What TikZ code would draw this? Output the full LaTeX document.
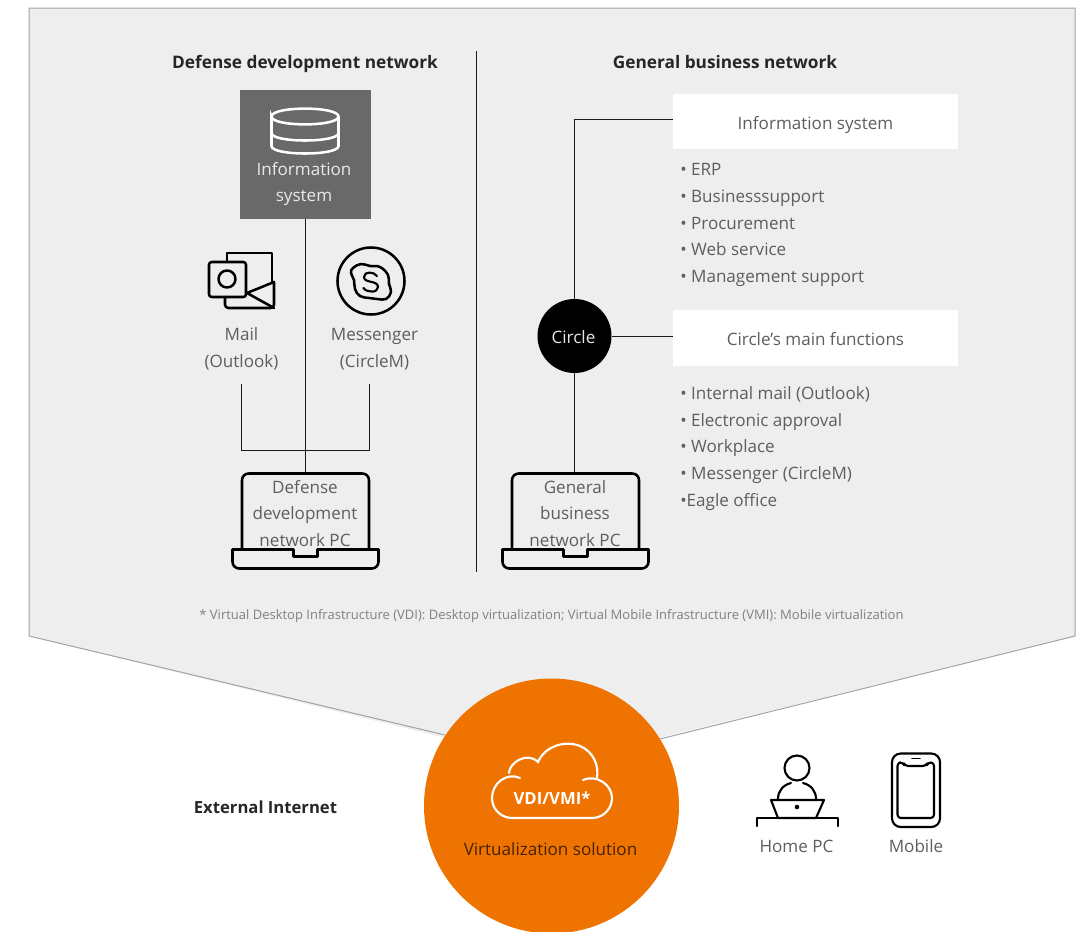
\documentclass[tikz,border=0pt]{standalone}
\usepackage{fontspec}
\setmainfont{Open Sans}
\definecolor{panel}{HTML}{EEEEEE}
\definecolor{paneledge}{HTML}{9AA5AD}
\definecolor{darkbox}{HTML}{696969}
\definecolor{orangec}{HTML}{EF7300}
\definecolor{txt}{HTML}{5E5E5E}
\definecolor{ink}{HTML}{1A1A1A}
\definecolor{boldtxt}{HTML}{262626}
\newcommand{\body}{\fontsize{12.8pt}{20pt}\selectfont}
\tikzset{
  x=0.75pt,y=-0.75pt,
  lbl/.style={inner sep=0pt,anchor=base,text=txt,font=\body,align=center},
  ttl/.style={inner sep=0pt,anchor=base,text=boldtxt,font=\fontsize{12.95pt}{16pt}\selectfont\bfseries},
  conn/.style={draw=ink,line width=0.75pt},
  icon/.style={draw=black,line width=1.9pt,line join=round,line cap=round},
  whitebox/.style={fill=white,draw=none,minimum width=213.75pt,minimum height=41.5pt,inner sep=0pt},
  lst/.style={inner sep=0pt,anchor=base west,text=txt,font=\body},
  laptop/.pic={
    \draw[icon,rounded corners=5pt] (-63.5,75) -- (-63.5,0) -- (63.5,0) -- (63.5,75);
    \draw[icon,rounded corners=5pt] (-73,76) -- (-73,95) -- (73,95) -- (73,76);
    \draw[icon] (-73,76) -- (-12,76) -- (-12,83) -- (12,83) -- (12,76) -- (73,76);
  }
}
\begin{document}
\begin{tikzpicture}
\useasboundingbox (0,0) rectangle (1090,932);
\clip (0,0) rectangle (1090,932);
% panel
\path[fill=panel] (29,8) -- (1075,8) -- (1075,636) -- (552,764) -- (29,636) -- cycle;
\draw[paneledge,line width=0.75pt] (445,735) -- (29,636) -- (29,8) -- (1075,8) -- (1075,636) -- (660,739);
% divider
\coordinate (divtop) at (476.5,51);
\coordinate (divbot) at (476.5,572);
\draw[conn] (divtop) -- (divbot);
% titles
\node[ttl] (deftitle) at (305,68) {Defense development network};
\node[ttl] (gentitle) at (725,68) {General business network};
% connectors left
\node[fill=darkbox,minimum width=98.25pt,minimum height=96.75pt,inner sep=0pt] (infodark) at (305.5,154.5) {};
\coordinate (devtop) at (305.5,473);
\coordinate (mailend) at (241.5,384);
\coordinate (msgend) at (369.5,384);
\coordinate (busl) at (241.5,450.5);
\coordinate (busr) at (369.5,450.5);
\draw[conn] (infodark.south) -- (devtop);
\draw[conn] (mailend) -- (busl) -- (busr) -- (msgend);
% database icon
\begin{scope}[line width=1.9pt,line cap=round]
\draw[white] (271.5,116.5) .. controls (271.5,106) and (338.5,106) .. (338.5,116.5) .. controls (338.5,127) and (271.5,127) .. (271.5,116.5) -- (271.5,146) .. controls (271.5,156) and (338.5,156) .. (338.5,146) -- (338.5,116.5);
\draw[white] (271.5,133) .. controls (271.5,143) and (338.5,143) .. (338.5,133);
\end{scope}
\node[lbl,text=white!85!darkbox,anchor=center] (infolabel) at (304,184) {Information\\system};
% outlook icon
\draw[icon,rounded corners=2pt] (209,262) rectangle (246,297);
\draw[icon] (227,279) circle[radius=8.5];
\draw[icon] (227,262) -- (227,253) -- (272,253) -- (272,282);
\draw[icon,rounded corners=2.5pt] (225,297) -- (225,308) -- (274,308) -- (274,282);
\draw[icon] (274,282) -- (247,293) -- (274,308);
\node[lbl] (mail) at (241.5,340) {Mail};
\node[lbl] (mail2) at (241.5,367) {(Outlook)};
% skype icon
\draw[icon] (371,281) circle[radius=33.5];
\draw[icon] plot[smooth cycle,tension=0.7] coordinates {(353,268) (361,264) (370,266) (380,267) (388,275) (389,284) (391,292) (386,299) (377,299) (369,298) (360,296) (355,289) (354,280) (351,273)};
\draw[icon,line width=1.6pt] (377,276) .. controls (374,271.5) and (364,271) .. (364,277) .. controls (364,283.5) and (378,280) .. (378,287) .. controls (378,293) and (367,293) .. (363.5,288);
\node[lbl] (msg) at (374.5,340) {Messenger};
\node[lbl] (msg2) at (374.5,367) {(CircleM)};
% right side
\node[whitebox] (infobox) at (815.5,121.5) {};
\node[whitebox] (funcbox) at (815.5,338) {};
\node[lbl] (infotext) at (815.5,129) {Information system};
\node[lbl] (functext) at (815.5,345) {Circle’s main functions};
\node[circle,fill=black,minimum size=55.5pt,inner sep=0pt] (circ) at (574.5,336) {};
\node[lbl,text=white!90!black] (circtext) at (573.5,343) {Circle};
\coordinate (gentop) at (574.5,473);
\coordinate (elbow) at (574.5,119);
\draw[conn] (circ.north) -- (elbow) -- (infobox.west |- elbow);
\draw[conn] (circ.east) -- (funcbox.west |- circ.east);
\draw[conn] (circ.south) -- (gentop);
\node[lst] (l1) at (680,175) {• ERP};
\node[lst] (l2) at (680,202) {• Businesssupport};
\node[lst] (l3) at (680,229) {• Procurement};
\node[lst] (l4) at (680,255) {• Web service};
\node[lst] (l5) at (680,282) {• Management support};
\node[lst] (m1) at (680,399) {• Internal mail (Outlook)};
\node[lst] (m2) at (680,426) {• Electronic approval};
\node[lst] (m3) at (680,452) {• Workplace};
\node[lst] (m4) at (680,479) {• Messenger (CircleM)};
\node[lst] (m5) at (680,506) {•Eagle office};
% laptops
\pic at (305.5,473.5) {laptop};
\pic at (575.5,473.5) {laptop};
\node[lbl] (d1) at (305,493) {Defense};
\node[lbl] (d2) at (305,519) {development};
\node[lbl] (d3) at (305,546) {network PC};
\node[lbl] (g1) at (575,493) {General};
\node[lbl] (g2) at (575,519) {business};
\node[lbl] (g3) at (575,546) {network PC};
% footnote
\node[inner sep=0pt,anchor=base,text=black!50,font=\fontsize{9.76pt}{12pt}\selectfont] (note) at (551.5,619) {* Virtual Desktop Infrastructure (VDI): Desktop virtualization; Virtual Mobile Infrastructure (VMI): Mobile virtualization};
% orange circle
\node[circle,fill=orangec,minimum size=191.25pt,inner sep=0pt] (vdi) at (551.5,806) {};
\begin{scope}[white,line width=1.6pt,line cap=round]
\draw (520,778) .. controls (507,772) and (492,783) .. (492,798) .. controls (492,810) and (502,818) .. (512,818) -- (592,818) .. controls (604,818) and (612,808) .. (612,798) .. controls (612,785) and (597,774) .. (583,780);
\draw (509,773) .. controls (509,763) and (527,751) .. (538,762) .. controls (545,746) and (565,740) .. (580,746) .. controls (594,752) and (599,766) .. (597,778);
\end{scope}
\node[inner sep=0pt,anchor=base,text=white,font=\fontsize{12.5pt}{15pt}\selectfont\bfseries] (vdit) at (552,804) {VDI/VMI*};
\node[lbl,text=black!70!orangec] (virt) at (550.5,855) {Virtualization solution};
% external
\node[ttl,font=\fontsize{12.5pt}{16pt}\selectfont\bfseries] (ext) at (265.5,813) {External Internet};
% home PC icon
\draw[icon,line width=1.6pt] (797,768) circle[radius=12.5];
\draw[icon,line width=1.6pt] (791,783) .. controls (783,785) and (778,791) .. (778,799);
\draw[icon,line width=1.6pt] (803,783) .. controls (811,785) and (816,791) .. (816,799);
\draw[icon,line width=1.6pt] (771,800) -- (824,800) -- (816,818) -- (778,818) -- cycle;
\fill[black] (797,807) circle[radius=2.3];
\draw[icon,line width=1.6pt] (757,826) -- (757,818) -- (838,818) -- (838,826);
\node[lbl] (home) at (796.5,852) {Home PC};
% mobile icon
\draw[icon,line width=1.6pt,rounded corners=6.5pt] (892,753.5) rectangle (940,827);
\draw[icon,line width=1.6pt,rounded corners=2.5pt] (905,766) -- (926,766) -- (928,762.5) -- (934,762.5) -- (934,818) -- (897.5,818) -- (897.5,762.5) -- (903,762.5) -- cycle;
\draw[icon,line width=1.3pt] (912,758.5) -- (920,758.5);
\node[lbl] (mobile) at (916,852) {Mobile};
\end{tikzpicture}
\end{document}
